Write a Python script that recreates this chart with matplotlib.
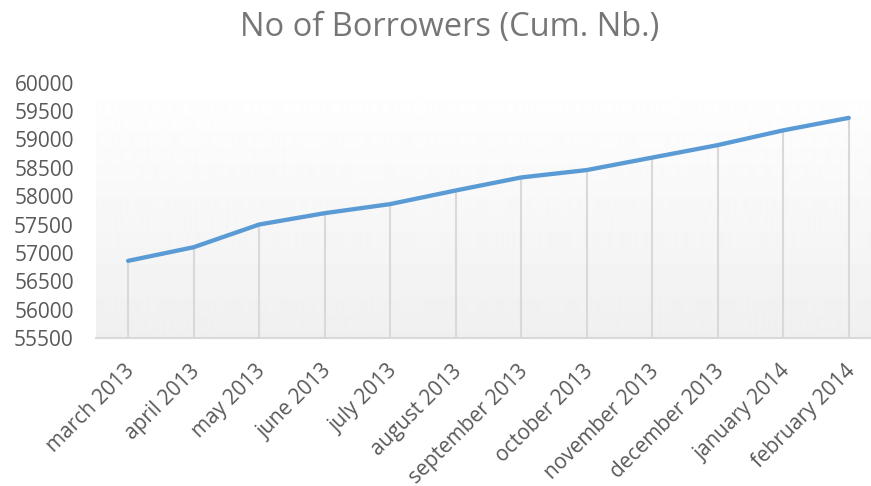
import numpy as np
import matplotlib
matplotlib.use("Agg")
import matplotlib.pyplot as plt
from matplotlib.transforms import ScaledTranslation

plt.rcParams['font.family'] = ['Open Sans', 'DejaVu Sans']

months = ["march 2013", "april 2013", "may 2013", "june 2013", "july 2013",
          "august 2013", "september 2013", "october 2013", "november 2013",
          "december 2013", "january 2014", "february 2014"]
borrowers = [56860, 57100, 57500, 57700, 57860, 58100,
             58330, 58460, 58680, 58900, 59160, 59380]
yticks = list(range(55500, 60001, 500))

text_col = "#595959"
grid_col = "#d9d9d9"
line_col = "#5b9bd5"

fig = plt.figure(figsize=(8.71, 4.86), dpi=100)
ax = fig.add_axes([96 / 871, 1 - 338 / 486, 1 - 96 / 871, (338 - 82.7) / 486])

x = np.arange(len(months))
ax.set_xlim(-0.49, 11.34)
ax.set_ylim(55500, 60000)

# soft vertical gradient in the plot area
grad = np.linspace(1.0, 0.94, 256).reshape(-1, 1)
ax.imshow(grad, cmap="gray", vmin=0, vmax=1, aspect="auto",
          extent=[-0.49, 11.34, 55500, 60000], origin="upper", zorder=0)

# drop lines from each point to the axis
ax.vlines(x, 55500, borrowers, color=grid_col, linewidth=1.5, zorder=1)
ax.plot(x, borrowers, color=line_col, linewidth=3.1, solid_capstyle="round",
        solid_joinstyle="round", zorder=3)

for s in ["top", "right", "left"]:
    ax.spines[s].set_visible(False)
ax.spines["bottom"].set_color(grid_col)
ax.spines["bottom"].set_linewidth(1.5)

ax.set_yticks(yticks)
ax.set_yticklabels([str(v) for v in yticks], fontsize=15, color=text_col)
ax.set_xticks(x)
ax.set_xticklabels(months, rotation=45, ha="right", rotation_mode="anchor",
                   fontsize=15, color=text_col)
ax.tick_params(axis="both", length=0)
ax.tick_params(axis="y", pad=16)
ax.tick_params(axis="x", pad=15)

shift = ScaledTranslation(-4 / 100, -2 / 100, fig.dpi_scale_trans)
for lab in ax.get_xticklabels():
    lab.set_transform(lab.get_transform() + shift)

fig.text(0.516, 1 - 36 / 486, "No of Borrowers (Cum. Nb.)", ha="center",
         va="baseline", fontsize=23.5, color="#767676")

fig.savefig("out.png", dpi=100)
